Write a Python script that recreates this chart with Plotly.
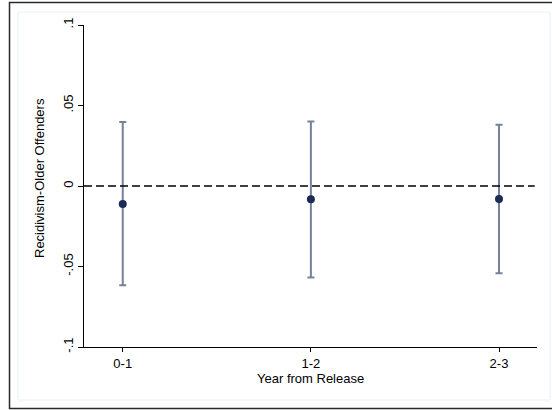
import plotly.graph_objects as go

categories = ["0-1", "1-2", "2-3"]
x_pos = [1, 2, 3]
estimates = [-0.0112, -0.0083, -0.0081]
ci_upper = [0.0398, 0.0400, 0.0381]
ci_lower = [-0.0617, -0.0569, -0.0542]
y_ticks = [-0.1, -0.05, 0, 0.05, 0.1]
y_tick_labels = ["-.1", "-.05", "0", ".05", ".1"]
y_title = "Recidivism-Older Offenders"
x_title = "Year from Release"

W, H = 552, 410
L, R, T, B = 84, 537, 25, 347

def px(p):
    return (p - L) / (R - L)

def py(q):
    return (B - q) / (B - T)

err_plus = [u - e for u, e in zip(ci_upper, estimates)]
err_minus = [e - l for e, l in zip(estimates, ci_lower)]

fig = go.Figure()
fig.add_trace(go.Scatter(
    x=x_pos, y=estimates, mode="markers",
    marker=dict(color="#1a2b56", size=8),
    error_y=dict(type="data", symmetric=False, array=err_plus, arrayminus=err_minus,
                 color="#76819c", thickness=2, width=3.5),
    showlegend=False, hoverinfo="skip",
))

font = dict(family="Liberation Sans, Arial, sans-serif", size=13, color="#000000")

fig.update_layout(
    width=W, height=H,
    margin=dict(l=L, r=W - R, t=T, b=H - B, pad=0),
    paper_bgcolor="white", plot_bgcolor="white",
    font=font,
    xaxis=dict(
        range=[0.794, 3.202], tickmode="array", tickvals=x_pos, ticktext=categories,
        showgrid=False, zeroline=False, showline=True, linecolor="#000000", linewidth=1,
        ticks="outside", ticklen=4, tickcolor="#000000", tickwidth=1,
        tickfont=font,
    ),
    yaxis=dict(
        range=[-0.1, 0.1], tickmode="array", tickvals=y_ticks, ticktext=y_tick_labels,
        tickangle=-90,
        showgrid=False, zeroline=False, showline=True, linecolor="#000000", linewidth=1,
        ticks="outside", ticklen=5, tickcolor="#000000", tickwidth=1,
        tickfont=font,
    ),
    annotations=[
        dict(text=y_title, xref="paper", yref="paper", x=px(40), y=py(178),
             textangle=-90, showarrow=False, xanchor="center", yanchor="middle",
             font=font),
        dict(text=x_title, xref="paper", yref="paper", x=px(310.5), y=py(378.5),
             showarrow=False, xanchor="center", yanchor="middle", font=font),
    ],
    shapes=[
        dict(type="rect", xref="paper", yref="paper",
             x0=px(18), x1=px(550), y0=py(400), y1=py(12),
             line=dict(color="#e9f0f0", width=1), layer="below"),
        dict(type="rect", xref="paper", yref="paper",
             x0=px(9.5), x1=px(570), y0=py(408.5), y1=py(2.5),
             line=dict(color="#2a2a2a", width=1.5), layer="below"),
        dict(type="line", xref="x", yref="y",
             x0=0.794, x1=3.19, y0=0, y1=0,
             line=dict(color="#000000", width=1.3, dash="8px,4px")),
    ],
)

fig.write_html("out.html")
